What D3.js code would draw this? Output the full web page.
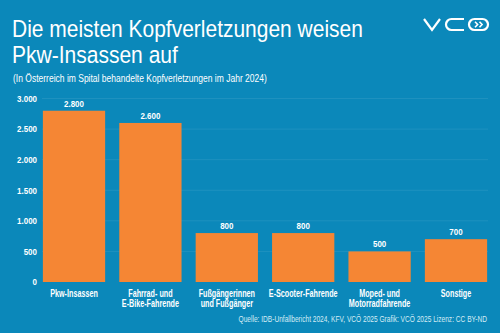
<!DOCTYPE html>
<html>
<head>
<meta charset="utf-8">
<script src="https://cdn.jsdelivr.net/npm/d3@7"></script>
<style>
  body { margin: 0; background: #0b88ba; }
  svg { display: block; }
  text { font-family: 'Liberation Sans', Arial, sans-serif; fill: #fff; }
  .title { font-size: 23.5px; }
  .subtitle { font-size: 11px; }
  .tick-label, .value-label { font-size: 9.5px; font-weight: bold; }
  .cat-label { font-size: 10px; font-weight: bold; }
  .source { font-size: 9.5px; fill: #d5ecf5; }
</style>
</head>
<body>
<div id="chart"></div>
<script>
// data
const categories = [
  ['Pkw-Insassen'],
  ['Fahrrad- und', 'E-Bike-Fahrende'],
  ['Fußgängerinnen', 'und Fußgänger'],
  ['E-Scooter-Fahrende'],
  ['Moped- und', 'Motorradfahrende'],
  ['Sonstige']
];
const values = [2800, 2600, 800, 800, 500, 700];
const yTicks = [0, 500, 1000, 1500, 2000, 2500, 3000];

const width = 500, height = 333;
const fmt = d3.formatLocale({ decimal: ',', thousands: '.', grouping: [3], currency: ['', '€'] }).format(',');

// squeeze text horizontally (transform) to mimic the condensed face of the original
function condense(sel, k) {
  sel.each(function() {
    const t = d3.select(this);
    const tx = +t.attr('x'), ty = +t.attr('y');
    t.attr('x', 0).attr('y', 0)
      .attr('transform', `translate(${tx},${ty}) scale(${k},1)`);
  });
}
// squeeze to a given width
function fitWidth(sel, w) {
  sel.each(function() {
    condense(d3.select(this), w / this.getComputedTextLength());
  });
}

const svg = d3.select('#chart').append('svg')
  .attr('width', width)
  .attr('height', height);

svg.append('rect').attr('width', width).attr('height', height).attr('fill', '#0b88ba');

// titles
svg.append('text').attr('class', 'title').attr('x', 12).attr('y', 37)
  .text('Die meisten Kopfverletzungen weisen').call(fitWidth, 351);
svg.append('text').attr('class', 'title').attr('x', 12).attr('y', 63)
  .text('Pkw-Insassen auf').call(fitWidth, 166);
svg.append('text').attr('class', 'subtitle').attr('x', 13).attr('y', 82)
  .text('(In Österreich im Spital behandelte Kopfverletzungen im Jahr 2024)').call(fitWidth, 254);

// logo
const logo = svg.append('g').attr('fill', 'none').attr('stroke', '#fff').attr('stroke-width', 2.2);
logo.append('path').attr('d', 'M424,19 L432,30 L440,19');
logo.append('path').attr('d', 'M464,19 L451.5,19 A5.5,5.5 0 0 0 451.5,30 L464,30');
logo.append('rect').attr('x', 469).attr('y', 19).attr('width', 19).attr('height', 11).attr('rx', 5.5);
logo.append('path').attr('stroke-width', 1.6).attr('d', 'M475,21.8 L477.6,24.5 L475,27.2 M479.5,21.8 L482.1,24.5 L479.5,27.2');

// scales
const x = d3.scaleBand()
  .domain(d3.range(values.length))
  .range([36, 494])
  .paddingInner(0.185)
  .paddingOuter(0.09);
const y = d3.scaleLinear()
  .domain([0, 3000])
  .range([282, 98.5]);

// gridlines
svg.append('g')
  .selectAll('line')
  .data(yTicks.slice(1))
  .enter().append('line')
    .attr('x1', 42).attr('x2', 488)
    .attr('y1', d => y(d)).attr('y2', d => y(d))
    .attr('stroke', '#ffffff').attr('stroke-opacity', 0.1).attr('stroke-width', 0.8);

// y axis labels
svg.append('g')
  .selectAll('text')
  .data(yTicks)
  .enter().append('text')
    .attr('class', 'tick-label')
    .attr('x', 37)
    .attr('y', d => y(d))
    .attr('dy', '0.35em')
    .attr('text-anchor', 'end')
    .text(d => fmt(d))
    .call(condense, 0.84);

// bars
svg.append('g')
  .selectAll('rect')
  .data(values)
  .enter().append('rect')
    .attr('x', (d, i) => x(i))
    .attr('width', x.bandwidth())
    .attr('y', d => y(d))
    .attr('height', d => y(0) - y(d))
    .attr('fill', '#f58634');

// value labels
svg.append('g')
  .selectAll('text')
  .data(values)
  .enter().append('text')
    .attr('class', 'value-label')
    .attr('x', (d, i) => x(i) + x.bandwidth() / 2)
    .attr('y', d => y(d) - 4)
    .attr('text-anchor', 'middle')
    .text(d => fmt(d))
    .call(condense, 0.84);

// category labels, one text per line
const catLines = categories.flatMap((lines, i) => lines.map((t, j) => ({ i, j, t })));
svg.append('g')
  .selectAll('text')
  .data(catLines)
  .enter().append('text')
    .attr('class', 'cat-label')
    .attr('text-anchor', 'middle')
    .attr('x', d => x(d.i) + x.bandwidth() / 2)
    .attr('y', d => 297 + d.j * 10)
    .text(d => d.t)
    .call(condense, 0.72);

// source
svg.append('text').attr('class', 'source')
  .attr('x', 487).attr('y', 322)
  .attr('text-anchor', 'end')
  .text('Quelle: IDB-Unfallbericht 2024, KFV, VCÖ 2025 Grafik: VCÖ 2025 Lizenz: CC BY-ND')
  .call(fitWidth, 249);
</script>
</body>
</html>
